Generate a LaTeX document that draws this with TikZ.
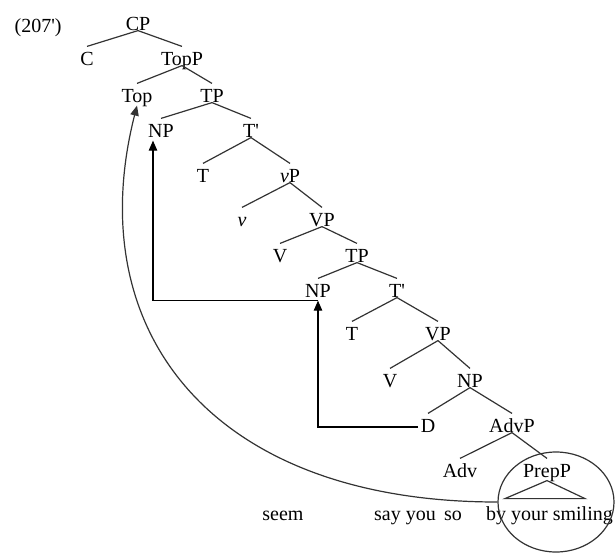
\documentclass[tikz,border=0pt]{standalone}
\usepackage{fontspec}
\setmainfont{Liberation Serif}
\usetikzlibrary{arrows.meta, shapes.geometric}
\tikzset{every path/.style={semithick}}
\tikzset{lbl/.style={anchor=base, inner xsep=1pt, inner ysep=0pt, text height=9pt, text depth=0pt}}
\tikzset{arr/.style={-{Triangle[length=5pt,width=4.2pt]}, black}}
\newcommand{\branch}[3]{
  \draw[black!80] (#1.south) -- (#2.north);
  \draw[black!80] (#1.south) -- (#3.north);
}

\begin{document}
\begin{tikzpicture}[x=0.5pt, y=-0.5pt]
    \useasboundingbox (0,0) rectangle (616,553);

    % labels of the tree

    \node[lbl, anchor=base west] (ex) at (12,32) {(207\textquotesingle)};
    \node[lbl] (CP) at (138,30) {CP};
    \node[lbl] (C) at (87,65) {C};
    \node[lbl] (TopP) at (182,65) {TopP};
    \node[lbl] (Top) at (137,102) {Top};
    \node[lbl] (TPa) at (212,102) {TP};
    \node[lbl] (NPa) at (161,137) {NP};
    \node[lbl] (Tbara) at (251,137) {T\textquotesingle};
    \node[lbl] (Ta) at (203,182) {T};
    \node[lbl] (vP) at (290,182) {\textit{v}P};
    \node[lbl] (v) at (242,226) {\textit{v}};
    \node[lbl] (VPa) at (322,226) {VP};
    \node[lbl] (Va) at (280,262) {V};
    \node[lbl] (TPb) at (357,262) {TP};
    \node[lbl] (NPb) at (318,297) {NP};
    \node[lbl] (Tbarb) at (397,297) {T\textquotesingle};
    \node[lbl] (Tb) at (352,340) {T};
    \node[lbl] (VPb) at (438,340) {VP};
    \node[lbl] (Vb) at (390,387) {V};
    \node[lbl] (NPc) at (470,387) {NP};
    \node[lbl] (D) at (428,432) {D};
    \node[lbl] (AdvP) at (512,432) {AdvP};
    \node[lbl] (Adv) at (460,477) {Adv};
    \node[lbl] (PrepP) at (547,477) {PrepP};

    % words

    \node[lbl] (seem) at (283,520) {seem};
    \node[lbl] (sayyou) at (405,520) {say you};
    \node[lbl] (so) at (453,520) {so};
    \node[lbl] (smiling) at (549.5,520) {by your smiling};

    % branches

    \branch{CP}{C}{TopP}
    \branch{TopP}{Top}{TPa}
    \branch{TPa}{NPa}{Tbara}
    \branch{Tbara}{Ta}{vP}
    \branch{vP}{v}{VPa}
    \branch{VPa}{Va}{TPb}
    \branch{TPb}{NPb}{Tbarb}
    \branch{Tbarb}{Tb}{VPb}
    \branch{VPb}{Vb}{NPc}
    \branch{NPc}{D}{AdvP}
    \branch{AdvP}{Adv}{PrepP}
    \draw[black!80] ([yshift=-1.5pt]PrepP.south) -- ++(-21pt,-9pt) -- ++(40pt,0pt) -- cycle;

    % movement

    \node[draw, ellipse, minimum width=58pt, minimum height=50pt, inner sep=0pt, black!80] (circ) at (556,502) {};
    \draw[arr] ([yshift=-2pt]D.west) -| ([yshift=-1.5pt]NPb.south);
    \draw[arr] ([yshift=-1.5pt]NPb.south) -| ([xshift=-4pt, yshift=-1.5pt]NPa.south);
    \draw[arr, black!80] (circ.west) .. controls (210,502) and (80,330) .. ([yshift=-1.5pt]Top.south);
\end{tikzpicture}
\end{document}
